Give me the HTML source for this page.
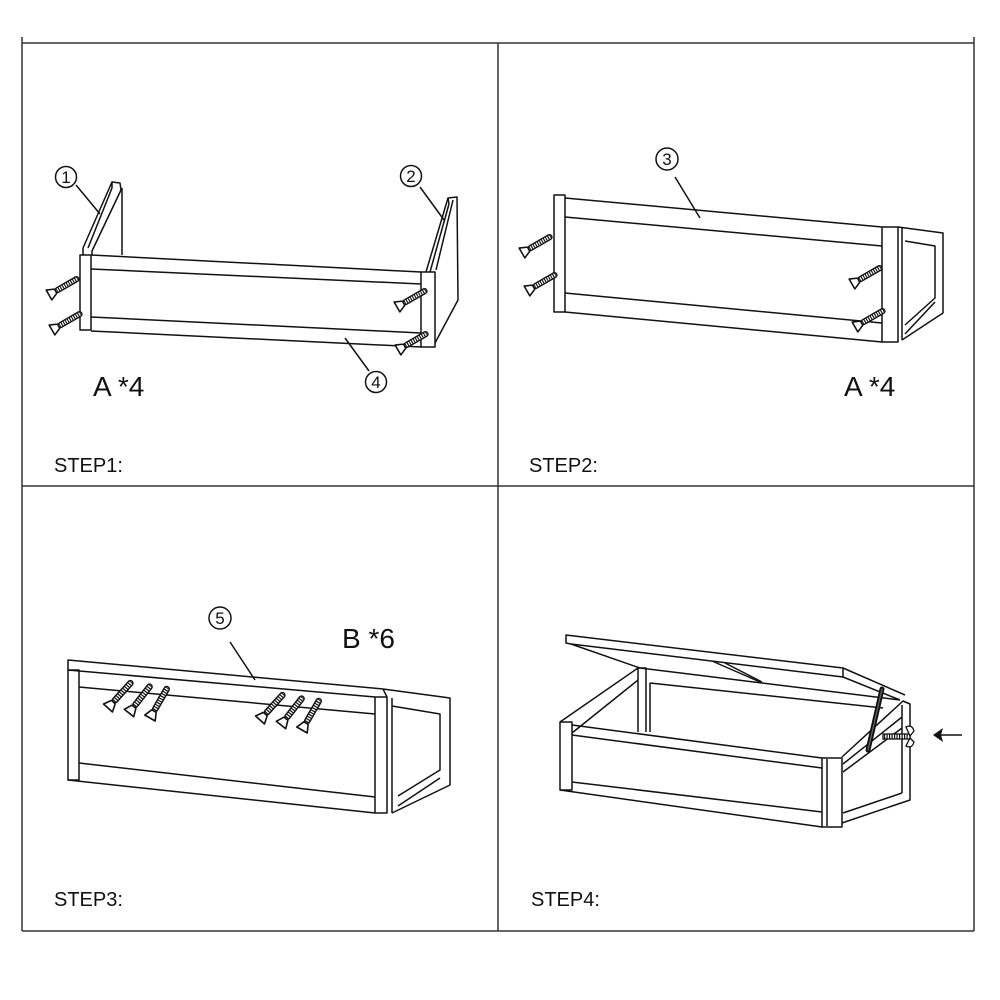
<!DOCTYPE html>
<html><head><meta charset="utf-8"><style>
html,body{margin:0;padding:0;background:#fff;}
svg{display:block}
text{font-family:"Liberation Sans",sans-serif;fill:#111}
</style></head><body>
<svg width="1000" height="1000" viewBox="0 0 1000 1000" xmlns="http://www.w3.org/2000/svg">
<defs>
<g id="screw">
  <polygon points="0,-6 8,-2.5 8,2.5 0,6" fill="#fff" stroke="#111" stroke-width="1.6" stroke-linejoin="round"/>
  <rect x="8" y="-2.6" width="28" height="5.2" rx="2.6" fill="#fff" stroke="#111" stroke-width="1.4"/>
  <line x1="9" y1="0" x2="35" y2="0" stroke="#111" stroke-width="5" stroke-dasharray="1.2 1.3"/>
</g>
</defs>
<g stroke="#333" stroke-width="1.5" fill="none">
  <line x1="22" y1="43" x2="974" y2="43"/>
  <line x1="22" y1="37" x2="22" y2="931"/>
  <line x1="974" y1="37" x2="974" y2="931"/>
  <line x1="22" y1="931" x2="974" y2="931"/>
  <line x1="498" y1="43" x2="498" y2="931"/>
  <line x1="22" y1="486" x2="974" y2="486"/>
</g>

<g stroke="#111" stroke-width="1.5" fill="none" stroke-linejoin="round">
<!-- STEP 1 -->
  <rect x="80" y="255" width="11" height="75" fill="#fff"/>
  <polyline points="91,255 421,272"/>
  <polyline points="91,269 421,284"/>
  <polyline points="91,317 421,333"/>
  <polyline points="91,331 421,347"/>
  <rect x="421" y="272" width="14" height="75"/>
  <polyline points="83,255 83,248 112,182 120,183 121,190 92,251 92,255"/>
  <line x1="112" y1="182" x2="112" y2="188"/>
  <line x1="112" y1="188" x2="88" y2="248"/>
  <line x1="122" y1="188" x2="122" y2="255"/>
  <polyline points="426,272 448,198 457,197 458,300 435,343"/>
  <line x1="448" y1="198" x2="449" y2="204"/>
  <line x1="449" y1="204" x2="430" y2="272"/>
  <line x1="453" y1="200" x2="436" y2="270"/>
  <circle cx="66" cy="177" r="10.5"/>
  <line x1="76" y1="185" x2="100" y2="214"/>
  <circle cx="411" cy="176" r="10.5"/>
  <line x1="420" y1="187" x2="444" y2="220"/>
  <circle cx="376" cy="382" r="10.5"/>
  <line x1="369" y1="371" x2="345" y2="338"/>

<!-- STEP 2 -->
  <rect x="554" y="195" width="11" height="117"/>
  <polyline points="565,198 882,227"/>
  <polyline points="565,217 882,246"/>
  <polyline points="565,293 882,323"/>
  <polyline points="565,312 882,342"/>
  <rect x="882" y="227" width="16" height="115"/>
  <line x1="902" y1="228" x2="902" y2="340"/>
  <polyline points="898,227 943,233 943,313 902,340"/>
  <polyline points="905,241 935,246 935,298 905,325"/>
  <polyline points="905,334 935,302"/>
  <circle cx="667" cy="159" r="11"/>
  <line x1="675" y1="177" x2="700" y2="218"/>

<!-- STEP 3 -->
  <rect x="68" y="670" width="11" height="110"/>
  <polyline points="68,670 68,660 383,689 450,698 450,785 392,813"/>
  <polyline points="68,670 375,697"/>
  <polyline points="79,687 375,714"/>
  <polyline points="79,763 375,797"/>
  <polyline points="68,780 375,813"/>
  <rect x="375" y="697" width="12" height="116"/>
  <line x1="392" y1="698" x2="392" y2="813"/>
  <polyline points="383,689 387,697"/>
  <polyline points="392,706 440,714 440,770 398,796"/>
  <line x1="398" y1="806" x2="440" y2="778"/>
  <circle cx="220" cy="618" r="11"/>
  <line x1="230" y1="642" x2="255" y2="680"/>

<!-- STEP 4 -->
  <polygon points="566,635 843,668 843,677 571,644 566,643" fill="#fff"/>
  <polyline points="571,644 640,668 900,700"/>
  <polyline points="843,668 905,695"/>
  <polyline points="843,677 900,700"/>
  <polyline points="712,661 760,682"/>
  <polyline points="725,663 762,682"/>
  <polyline points="560,722 638,668 646,668 646,732"/>
  <line x1="638" y1="668" x2="638" y2="732"/>
  <polyline points="572,733 638,680"/>
  <polyline points="650,683 650,732"/>
  <polyline points="650,683 883,708"/>
  <rect x="560" y="722" width="12" height="68" fill="none"/>
  <polyline points="572,725 822,758"/>
  <polyline points="572,735 822,768"/>
  <polyline points="572,782 822,812"/>
  <polyline points="560,790 822,827"/>
  <rect x="822" y="758" width="20" height="69"/>
  <line x1="827" y1="759" x2="827" y2="826"/>
  <polyline points="842,757 903,701 910,704 910,800 842,823"/>
  <line x1="902" y1="705" x2="902" y2="793"/>
  <polyline points="843,764 902,717"/>
  <polyline points="843,772 902,728"/>
  <polyline points="843,813 902,793"/>
</g>

<line x1="882" y1="689" x2="868" y2="750" stroke="#111" stroke-width="5" stroke-linecap="round"/>
<line x1="882" y1="689" x2="868" y2="750" stroke="#666" stroke-width="1.2" stroke-linecap="round"/>
<rect x="883" y="734" width="27" height="5" fill="#fff" stroke="#111" stroke-width="1.3"/>
<line x1="884" y1="736.5" x2="909" y2="736.5" stroke="#111" stroke-width="4" stroke-dasharray="1.2 1.3"/>
<path d="M910,736 L906,727 Q912,724 914,731 Z M910,738 L906,746 Q912,749 914,742 Z" fill="#fff" stroke="#111" stroke-width="1.3"/>
<line x1="940" y1="735" x2="962" y2="735" stroke="#111" stroke-width="1.5"/>
<polygon points="933,735 943,728 941,735 943,742" fill="#111"/>

<use href="#screw" transform="translate(49,295) rotate(-30) scale(0.95)"/>
<use href="#screw" transform="translate(52,330) rotate(-30) scale(0.95)"/>
<use href="#screw" transform="translate(397,307) rotate(-30) scale(0.95)"/>
<use href="#screw" transform="translate(398,350) rotate(-30) scale(0.95)"/>
<use href="#screw" transform="translate(522,253) rotate(-30) scale(0.95)"/>
<use href="#screw" transform="translate(527,291) rotate(-30) scale(0.95)"/>
<use href="#screw" transform="translate(852,284) rotate(-30) scale(0.95)"/>
<use href="#screw" transform="translate(855,327) rotate(-30) scale(0.95)"/>
<use href="#screw" transform="translate(108,708) rotate(-48)"/>
<use href="#screw" transform="translate(129,713) rotate(-52)"/>
<use href="#screw" transform="translate(150,718) rotate(-60)"/>
<use href="#screw" transform="translate(260,720) rotate(-48)"/>
<use href="#screw" transform="translate(281,725) rotate(-52)"/>
<use href="#screw" transform="translate(302,730) rotate(-60)"/>

<g font-size="17">
<text x="66" y="183" text-anchor="middle">1</text>
<text x="411" y="182" text-anchor="middle">2</text>
<text x="376" y="388" text-anchor="middle">4</text>
<text x="667" y="165" text-anchor="middle">3</text>
<text x="220" y="624" text-anchor="middle">5</text>
</g>
<text x="93" y="396" font-size="28">A *4</text>
<text x="844" y="396" font-size="28">A *4</text>
<text x="342" y="648" font-size="28">B *6</text>
<text x="54" y="472" font-size="20">STEP1:</text>
<text x="529" y="472" font-size="20">STEP2:</text>
<text x="54" y="906" font-size="20">STEP3:</text>
<text x="531" y="906" font-size="20">STEP4:</text>
</svg>
</body></html>
